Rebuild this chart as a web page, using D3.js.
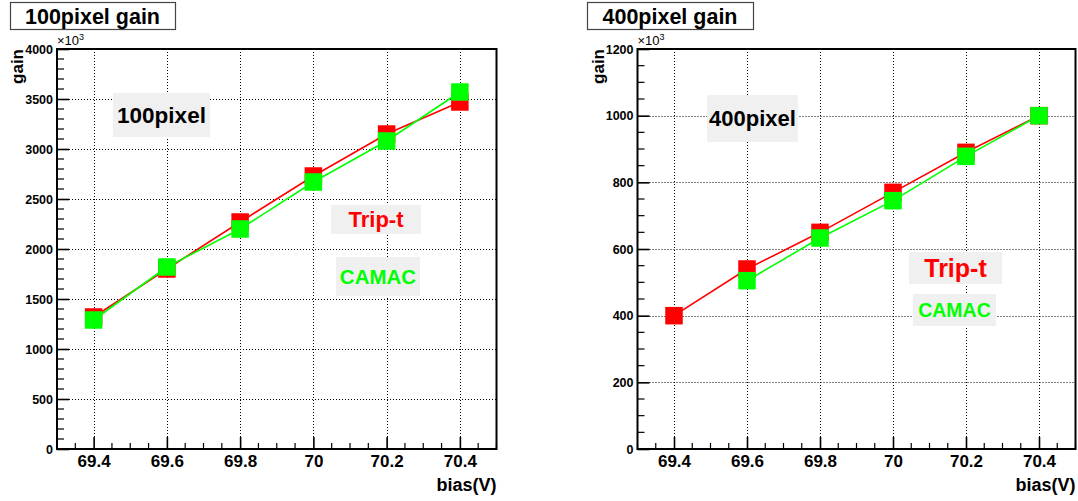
<!DOCTYPE html>
<html>
<head>
<meta charset="utf-8">
<script src="https://cdn.jsdelivr.net/npm/d3@7"></script>
<style>
  html, body { margin: 0; padding: 0; background: #fff; }
  svg { display: block; font-family: "Liberation Sans", Arial, Helvetica, sans-serif; }
</style>
</head>
<body>
<svg id="chart" width="1078" height="501"></svg>
<script>
// Bias voltage (V) axis ticks shared by both panels
const biasTicks = [69.4, 69.6, 69.8, 70.0, 70.2, 70.4];
const biasTickLabels = ["69.4", "69.6", "69.8", "70", "70.2", "70.4"];

// 100-pixel device gain (units of 10^3)
const bias100 = [69.4, 69.6, 69.8, 70.0, 70.2, 70.4];
const tripT100 = [1320, 1800, 2270, 2730, 3150, 3470];
const camac100 = [1290, 1820, 2200, 2670, 3080, 3570];
const gainTicks100 = [0, 500, 1000, 1500, 2000, 2500, 3000, 3500, 4000];

// 400-pixel device gain (units of 10^3)
const bias400Trip = [69.4, 69.6, 69.8, 70.0, 70.2, 70.4];
const tripT400 = [400, 540, 650, 770, 890, 1000];
const bias400Camac = [69.6, 69.8, 70.0, 70.2, 70.4];
const camac400 = [505, 633, 745, 878, 1000];
const gainTicks400 = [0, 200, 400, 600, 800, 1000, 1200];

const RED = "#ff0000";
const GREEN = "#00ff00";
const FONT = "Liberation Sans, Arial, sans-serif";

const svg = d3.select("#chart");

function drawPanel(p) {
  const g = svg.append("g");
  const x = d3.scaleLinear().domain([69.3, 70.5]).range([p.left, p.right]);
  const y = d3.scaleLinear().domain([0, p.yMax]).range([p.bottom, p.top]);

  // dotted grid at major ticks
  g.append("g").selectAll("line").data(biasTicks).join("line")
    .attr("x1", d => Math.round(x(d)) + 0.5).attr("x2", d => Math.round(x(d)) + 0.5)
    .attr("y1", p.top).attr("y2", p.bottom)
    .attr("stroke", "#000").attr("stroke-width", 1).attr("stroke-dasharray", "1,2");
  g.append("g").selectAll("line").data(p.yTicks.slice(1, -1)).join("line")
    .attr("x1", p.left).attr("x2", p.right)
    .attr("y1", d => Math.round(y(d)) + 0.5).attr("y2", d => Math.round(y(d)) + 0.5)
    .attr("stroke", "#000").attr("stroke-width", 1).attr("stroke-dasharray", "1,2");

  // minor ticks (inside the frame)
  const xMinor = x.ticks(24).filter(v => !biasTicks.some(t => Math.abs(t - v) < 1e-6));
  g.append("g").selectAll("line").data(xMinor).join("line")
    .attr("x1", d => x(d)).attr("x2", d => x(d))
    .attr("y1", p.bottom).attr("y2", p.bottom - 6)
    .attr("stroke", "#000").attr("stroke-width", 1.2);
  const yMinor = y.ticks(p.yMinorCount).filter(v => !p.yTicks.includes(v));
  g.append("g").selectAll("line").data(yMinor).join("line")
    .attr("x1", p.left).attr("x2", p.left + 7)
    .attr("y1", d => y(d)).attr("y2", d => y(d))
    .attr("stroke", "#000").attr("stroke-width", 1.2);

  // major axes via d3 axis generators, ticks pointing inward
  const xAxis = d3.axisBottom(x).tickValues(biasTicks)
    .tickFormat((d, i) => biasTickLabels[i]).tickSizeInner(-12).tickSizeOuter(0).tickPadding(6);
  const gx = g.append("g").attr("transform", `translate(0,${p.bottom})`).call(xAxis);
  gx.attr("font-family", FONT);
  gx.select(".domain").remove();
  gx.selectAll(".tick line").attr("stroke", "#000").attr("stroke-width", 1.6);
  gx.selectAll(".tick text").attr("font-size", 17).attr("font-weight", "bold").attr("fill", "#000");

  const yAxis = d3.axisLeft(y).tickValues(p.yTicks).tickFormat(d3.format("d"))
    .tickSizeInner(-12).tickSizeOuter(0).tickPadding(4);
  const gy = g.append("g").attr("transform", `translate(${p.left},0)`).call(yAxis);
  gy.attr("font-family", FONT);
  gy.select(".domain").remove();
  gy.selectAll(".tick line").attr("stroke", "#000").attr("stroke-width", 1.6);
  gy.selectAll(".tick text").attr("font-size", 12.5).attr("font-weight", "bold").attr("fill", "#000");

  // frame
  g.append("rect").attr("x", p.left).attr("y", p.top)
    .attr("width", p.right - p.left).attr("height", p.bottom - p.top)
    .attr("fill", "none").attr("stroke", "#000").attr("stroke-width", 2);

  // x10^3 multiplier
  const mult = g.append("text").attr("x", p.left).attr("y", p.top - 4)
    .attr("font-size", 13).attr("fill", "#000");
  mult.append("tspan").text("×10");
  mult.append("tspan").attr("dy", -5).attr("font-size", 9).text("3");

  // axis titles
  g.append("text")
    .attr("transform", `translate(${p.left - 34},${p.top}) rotate(-90)`)
    .attr("text-anchor", "end").attr("font-size", 17).attr("font-weight", "bold")
    .text("gain");
  g.append("text").attr("x", p.right).attr("y", 491)
    .attr("text-anchor", "end").attr("font-size", 18).attr("font-weight", "bold")
    .text("bias(V)");

  // data series: Trip-t first, CAMAC on top
  const line = d3.line().x(d => x(d[0])).y(d => y(d[1]));
  const sz = 17.5;
  p.series.forEach(s => {
    const pts = s.xs.map((v, i) => [v, s.ys[i]]);
    g.append("path").datum(pts).attr("d", line)
      .attr("fill", "none").attr("stroke", s.color).attr("stroke-width", 1.6);
    g.append("g").selectAll("rect").data(pts).join("rect")
      .attr("x", d => x(d[0]) - sz / 2).attr("y", d => y(d[1]) - sz / 2)
      .attr("width", sz).attr("height", sz).attr("fill", s.color);
  });

  // labels on light-grey patches
  p.labels.forEach(l => {
    g.append("rect").attr("x", l.x0).attr("y", l.y0)
      .attr("width", l.x1 - l.x0).attr("height", l.y1 - l.y0).attr("fill", "#f0f0f0");
    g.append("text").attr("x", (l.x0 + l.x1) / 2).attr("y", (l.y0 + l.y1) / 2)
      .attr("dy", "0.36em").attr("text-anchor", "middle")
      .attr("font-size", l.size).attr("font-weight", "bold").attr("fill", l.color)
      .text(l.text);
  });

  // panel title box
  g.append("rect").attr("x", p.titleBox[0] + 0.5).attr("y", 2.5)
    .attr("width", p.titleBox[1] - p.titleBox[0]).attr("height", 27)
    .attr("fill", "#fff").attr("stroke", "#444").attr("stroke-width", 1.2);
  g.append("text").attr("x", (p.titleBox[0] + p.titleBox[1]) / 2).attr("y", 23.5)
    .attr("text-anchor", "middle").attr("font-size", 21.5).attr("font-weight", "bold")
    .text(p.title);
}

drawPanel({
  left: 57, right: 496.5, top: 49, bottom: 449, yMax: 4000,
  yTicks: gainTicks100, yMinorCount: 40,
  title: "100pixel gain", titleBox: [10, 175],
  series: [
    { xs: bias100, ys: tripT100, color: RED },
    { xs: bias100, ys: camac100, color: GREEN }
  ],
  labels: [
    { text: "100pixel", color: "#000", size: 22.5, x0: 113, x1: 210, y0: 93, y1: 137 },
    { text: "Trip-t", color: RED, size: 22, x0: 331, x1: 421, y0: 205, y1: 234 },
    { text: "CAMAC", color: GREEN, size: 20.5, x0: 336, x1: 420, y0: 257, y1: 296 }
  ]
});

drawPanel({
  left: 637.5, right: 1075.5, top: 49, bottom: 449, yMax: 1200,
  yTicks: gainTicks400, yMinorCount: 24,
  title: "400pixel gain", titleBox: [587, 753],
  series: [
    { xs: bias400Trip, ys: tripT400, color: RED },
    { xs: bias400Camac, ys: camac400, color: GREEN }
  ],
  labels: [
    { text: "400pixel", color: "#000", size: 22, x0: 707, x1: 798, y0: 95, y1: 142 },
    { text: "Trip-t", color: RED, size: 25, x0: 909, x1: 1002, y0: 252, y1: 284 },
    { text: "CAMAC", color: GREEN, size: 19.5, x0: 913, x1: 996, y0: 294, y1: 326 }
  ]
});
</script>
</body>
</html>
